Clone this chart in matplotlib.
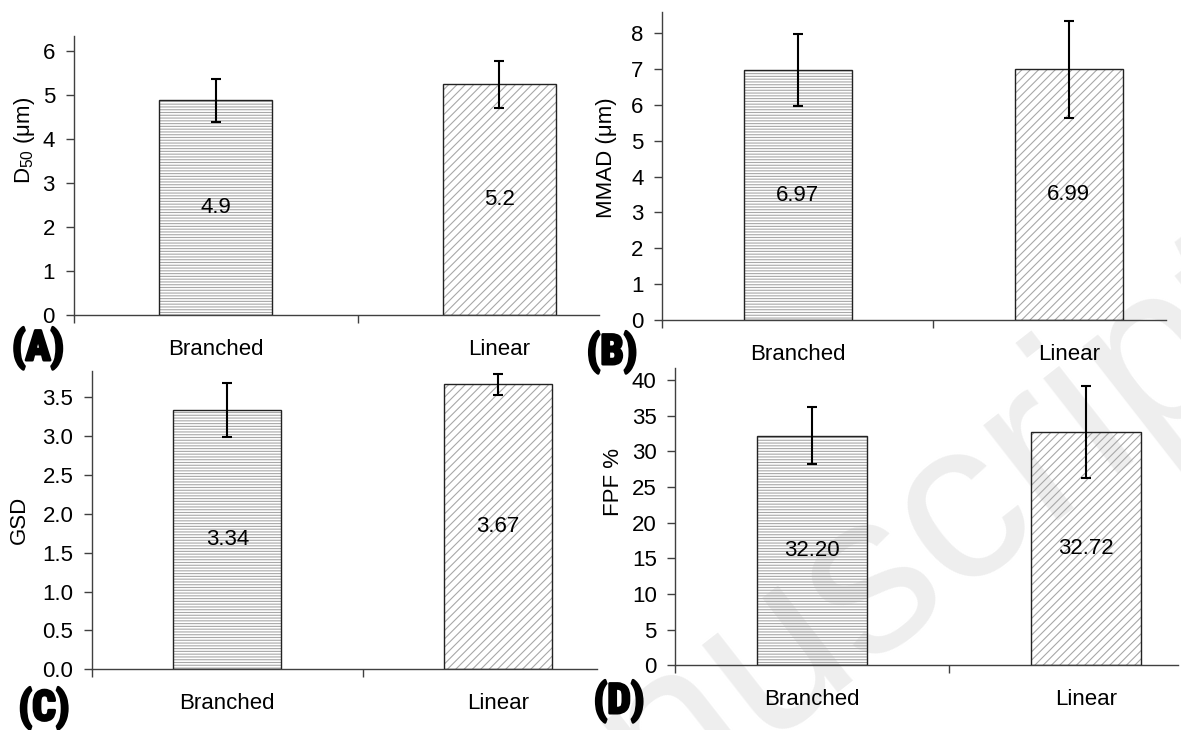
import matplotlib
matplotlib.use("Agg")
import matplotlib.pyplot as plt
import matplotlib.patheffects as pe
from matplotlib import font_manager
import numpy as np

# ---------------- data ----------------
categories = ["Branched", "Linear"]

d50_values = [4.87, 5.23]
d50_errors = [0.48, 0.53]
d50_labels = ["4.9", "5.2"]

mmad_values = [6.97, 6.99]
mmad_errors = [1.00, 1.36]
mmad_labels = ["6.97", "6.99"]

gsd_values = [3.34, 3.67]
gsd_errors = [0.35, 0.135]
gsd_labels = ["3.34", "3.67"]

fpf_values = [32.20, 32.72]
fpf_errors = [4.0, 6.45]
fpf_labels = ["32.20", "32.72"]

panel_letters = ["(A)", "(B)", "(C)", "(D)"]
y_titles = [r"D$_{\mathrm{50}}$ (μm)", "MMAD (μm)", "GSD", "FPF %"]
watermark = "Manuscript"

# ---------------- style ----------------
plt.rcParams["font.family"] = ["Liberation Sans", "DejaVu Sans"]
plt.rcParams["mathtext.fontset"] = "custom"
plt.rcParams["mathtext.rm"] = "Liberation Sans"
plt.rcParams["mathtext.it"] = "Liberation Sans:italic"
plt.rcParams["hatch.linewidth"] = 0.8

FS = 16
W, H = 1181, 730
fig = plt.figure(figsize=(W / 100, H / 100), dpi=100)

available = {f.name for f in font_manager.fontManager.ttflist}
heavy_family = None
for cand in ["Liberation Sans Narrow", "DejaVu Sans Condensed", "Roboto Condensed",
             "Open Sans Condensed", "Liberation Sans"]:
    if cand in available:
        heavy_family = cand
        break
if heavy_family is None:
    heavy_family = "DejaVu Sans"

# faint watermark behind everything
fig.text(815 / W, 1 - 620 / H, watermark, fontsize=165, color="#eeeeee",
         rotation=38, rotation_mode="anchor", ha="center", va="center", zorder=-5)


def px_axes(left, right, top, bottom):
    return fig.add_axes([left / W, 1 - bottom / H, (right - left) / W, (bottom - top) / H])


panels = [
    ((73.7, 598.5, 36, 315), 1.349, 6.33, np.arange(0, 7, 1), "{:.0f}",
     d50_values, d50_errors, d50_labels, (-0.093, 0.624), (38, 348)),
    ((662.3, 1166, 12, 320), 1.359, 8.59, np.arange(0, 9, 1), "{:.0f}",
     mmad_values, mmad_errors, mmad_labels, (-0.11, 0.526), (612, 352)),
    ((92, 597, 371, 669.3), 1.366, 3.84, np.arange(0, 3.51, 0.5), "{:.1f}",
     gsd_values, gsd_errors, gsd_labels, (-0.143, 0.5), (44, 708)),
    ((675.4, 1178, 368, 665.3), 1.337, 41.66, np.arange(0, 41, 5), "{:.0f}",
     fpf_values, fpf_errors, fpf_labels, (-0.124, 0.617), (619, 701)),
]

hatches = ["------", "////"]
x = np.arange(len(categories))

for k, (box, xr, ytop, yt, fmt, vals, errs, labs, ylc, lpos) in enumerate(panels):
    ax = px_axes(*box)
    ax.patch.set_alpha(0)
    for i in range(len(categories)):
        ax.bar(x[i], vals[i], width=0.4, facecolor="none", edgecolor="#a8a8a8",
               hatch=hatches[i], linewidth=0, zorder=2)
        ax.bar(x[i], vals[i], width=0.4, fill=False, edgecolor="#222222",
               linewidth=1.0, zorder=3)
    ax.errorbar(x, vals, yerr=errs, fmt="none", ecolor="black", elinewidth=1.5,
                capsize=3.5, capthick=1.5, zorder=4)
    for i in range(len(categories)):
        ax.text(x[i], vals[i] / 2, labs[i], ha="center", va="center", fontsize=FS,
                color="black", zorder=5)

    ax.set_xlim(-0.5, xr)
    ax.set_ylim(0, ytop)
    ax.set_yticks(yt)
    ax.set_yticklabels([fmt.format(t) for t in yt])
    ax.set_xticks([-0.5, 0.5])
    ax.set_xticklabels([])
    ax.set_xticks(x, minor=True)
    ax.set_xticklabels(categories, minor=True)
    ax.tick_params(axis="x", which="minor", length=0, pad=17, labelsize=FS)
    ax.tick_params(axis="x", which="major", length=5.5, width=1, color="#404040",
                   direction="out")
    ax.tick_params(axis="y", length=5.5, width=1, color="#404040", direction="out",
                   pad=8, labelsize=FS)
    for s in ["top", "right"]:
        ax.spines[s].set_visible(False)
    for s in ["left", "bottom"]:
        ax.spines[s].set_color("#404040")
        ax.spines[s].set_linewidth(1.0)

    ax.set_ylabel(y_titles[k], fontsize=FS)
    ax.yaxis.set_label_coords(*ylc)
    ax.yaxis.label.set_verticalalignment("center")

    fig.text(lpos[0] / W, 1 - lpos[1] / H, panel_letters[k], fontsize=30,
             family=[heavy_family, "DejaVu Sans"], fontweight="bold",
             ha="center", va="center", color="black",
             path_effects=[pe.withStroke(linewidth=2.0, foreground="black")])

fig.savefig("out.png", dpi=100)
